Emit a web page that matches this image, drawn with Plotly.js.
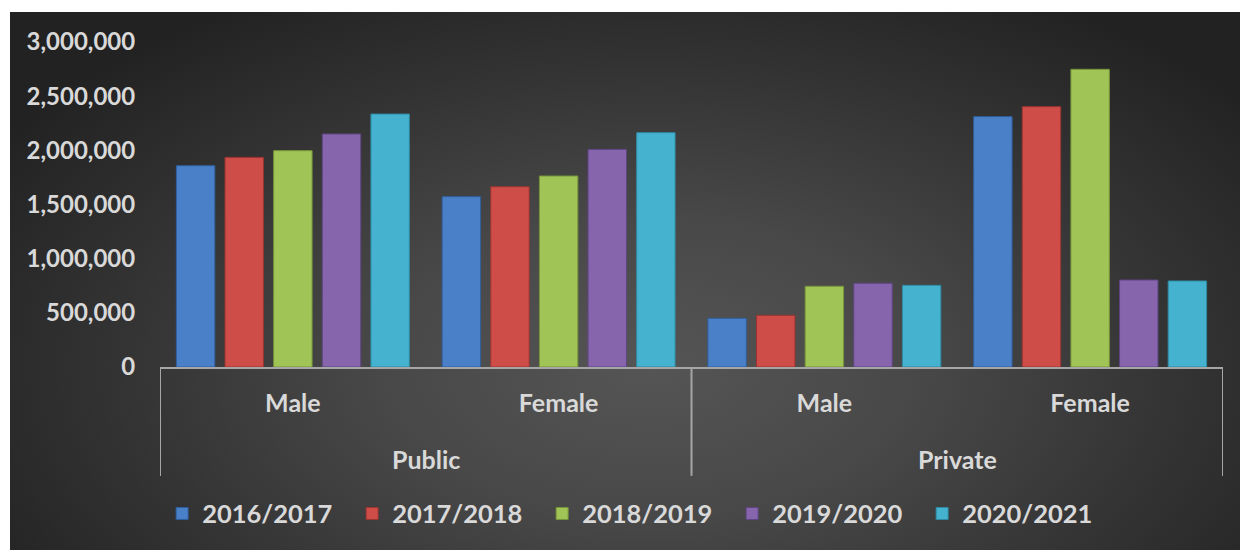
<!DOCTYPE html>
<html>
<head>
<meta charset="utf-8">
<script src="https://cdn.plot.ly/plotly-3.0.1.min.js"></script>
<style>
  html, body { margin: 0; padding: 0; background: #ffffff; }
  #wrap { position: relative; width: 1240px; height: 550px; overflow: hidden; background: #ffffff; }
  #bg { position: absolute; left: 10px; top: 12px; width: 1230px; height: 538px;
        background: radial-gradient(ellipse 62% 80% at 52% 66%, #555555 0%, #484848 35%, #333333 70%, #222222 100%); }
  #chart { position: absolute; left: 0; top: 0; width: 1240px; height: 550px; }
</style>
</head>
<body>
<div id="wrap">
  <div id="bg"></div>
  <div id="chart"></div>
</div>
<script>
// Categories (outer: sector, inner: gender)
const sectors = ["Public", "Public", "Private", "Private"];
const genders = ["Male", "Female", "Male", "Female"];

// Series names
const seriesNames = ["2016/2017", "2017/2018", "2018/2019", "2019/2020", "2020/2021"];

// Values per series, in order: Public Male, Public Female, Private Male, Private Female
const y2016_2017 = [1858000, 1572000, 449000, 2311000];
const y2017_2018 = [1935000, 1664000, 477000, 2403000];
const y2018_2019 = [1997000, 1763000, 745000, 2748000];
const y2019_2020 = [2151000, 2009000, 773000, 803000];
const y2020_2021 = [2335000, 2163000, 754000, 794000];

// Y tick values
const yTicks = [0, 500000, 1000000, 1500000, 2000000, 2500000, 3000000];

const seriesValues = [y2016_2017, y2017_2018, y2018_2019, y2019_2020, y2020_2021];
const colors = ["#4a80c8", "#cf4d49", "#a0c556", "#8665ad", "#45b3cf"];
const lineColors = ["#2f5f9e", "#9c3431", "#77953a", "#5f4683", "#2e8aa2"];

const FONT = "Lato, 'Open Sans', sans-serif";
const TXT = "#d9d9d9";
const AXIS = "#a6a6a6";

// category positions on the x axis
const catIdx = genders.map((_, i) => i);

const traces = seriesNames.map((name, i) => ({
  type: "bar",
  name: name,
  x: catIdx,
  y: seriesValues[i],
  marker: { color: colors[i], line: { color: lineColors[i], width: 1 } },
  hoverinfo: "skip"
}));

// group boundaries and outer labels built from the sector array
const boundaries = [-0.5];
const outerLabels = [];
let start = 0;
for (let i = 1; i <= sectors.length; i++) {
  if (i === sectors.length || sectors[i] !== sectors[start]) {
    boundaries.push(i - 0.5);
    outerLabels.push({ text: sectors[start], pos: (start + i - 1) / 2 });
    start = i;
  }
}

const DIV_BOTTOM = -0.335;   // paper units below the axis
const OUTER_Y = -0.283;

const shapes = boundaries.map(b => ({
  type: "line", xref: "x", yref: "paper",
  x0: b, x1: b, y0: 0, y1: DIV_BOTTOM,
  line: { color: AXIS, width: 2 }
}));

const annotations = outerLabels.map(o => ({
  xref: "x", yref: "paper", x: o.pos, y: OUTER_Y,
  text: o.text, showarrow: false, xanchor: "center", yanchor: "middle",
  font: { family: FONT, size: 25, color: TXT, weight: "bold" }
}));

const layout = {
  width: 1240,
  height: 550,
  paper_bgcolor: "rgba(0,0,0,0)",
  plot_bgcolor: "rgba(0,0,0,0)",
  margin: { l: 160, r: 17, t: 42, b: 183 },
  barmode: "group",
  bargap: 0.085,
  bargroupgap: 0.21,
  font: { family: FONT, color: TXT, size: 24, weight: "bold" },
  xaxis: {
    type: "linear",
    range: [-0.5, catIdx.length - 0.5],
    tickvals: catIdx,
    ticktext: genders,
    showline: true,
    linecolor: AXIS,
    linewidth: 2,
    ticks: "outside",
    ticklen: 13,
    tickcolor: "rgba(0,0,0,0)",
    showgrid: false,
    zeroline: false,
    tickfont: { family: FONT, size: 25, color: TXT, weight: "bold" }
  },
  yaxis: {
    range: [0, 3000000],
    tickvals: yTicks,
    tickformat: ",d",
    showgrid: false,
    zeroline: false,
    showline: false,
    ticks: "outside",
    ticklen: 19,
    tickcolor: "rgba(0,0,0,0)",
    tickfont: { family: FONT, size: 24, color: TXT, weight: "bold" }
  },
  shapes: shapes,
  annotations: annotations,
  legend: {
    orientation: "h",
    x: 0.002,
    xanchor: "left",
    y: -0.452,
    yanchor: "middle",
    font: { family: FONT, size: 25.5, color: TXT, weight: "bold" },
    bgcolor: "rgba(0,0,0,0)",
    itemwidth: 30,
    entrywidth: 145,
    traceorder: "normal"
  },
  showlegend: true
};

Plotly.newPlot("chart", traces, layout, { displayModeBar: false, staticPlot: true });
</script>
</body>
</html>
